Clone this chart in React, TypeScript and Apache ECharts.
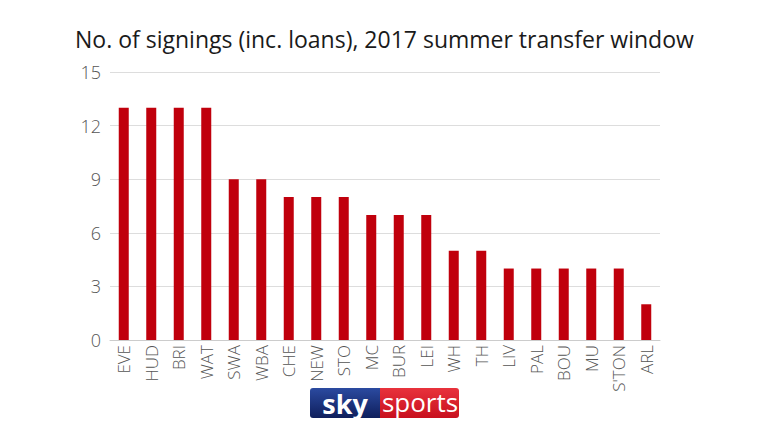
import React, { useEffect, useRef } from "react";
import * as echarts from "echarts";

const categories = ["EVE","HUD","BRI","WAT","SWA","WBA","CHE","NEW","STO","MC","BUR","LEI","WH","TH","LIV","PAL","BOU","MU","S'TON","ARL"];
const signings = [13,13,13,13,9,9,8,8,8,7,7,7,5,5,4,4,4,4,4,2];
const titleText = "No. of signings (inc. loans), 2017 summer transfer window";

export default function App() {
  const ref = useRef<HTMLDivElement>(null);
  useEffect(() => {
    const chart = echarts.init(ref.current!, null, { renderer: "svg" });
    chart.setOption({
      animation: false,
      backgroundColor: "#ffffff",
      title: {
        text: titleText,
        left: 70,
        top: 22,
        textStyle: { fontFamily: "Open Sans", fontSize: 23, fontWeight: "normal", color: "#1a1a1a" },
      },
      grid: { left: 110, right: 108, top: 72, bottom: 92, containLabel: false },
      xAxis: {
        type: "category",
        data: categories,
        axisTick: { show: false },
        axisLine: { lineStyle: { color: "#cccccc", width: 1 } },
        axisLabel: { rotate: 90, color: "#555555", fontFamily: "Open Sans", fontWeight: 300, fontSize: 17, margin: 5, interval: 0 },
      },
      yAxis: {
        type: "value",
        min: 0,
        max: 15,
        interval: 3,
        axisLine: { show: false },
        axisTick: { show: false },
        splitLine: { lineStyle: { color: "#dddddd", width: 1 } },
        axisLabel: { color: "#555555", fontFamily: "Open Sans", fontWeight: 300, fontSize: 18, margin: 9 },
      },
      series: [
        {
          type: "bar",
          data: signings,
          barWidth: 10,
          itemStyle: { color: "#c0000c" },
        },
      ],
      graphic: [
        {
          type: "group",
          left: 310,
          top: 388,
          children: [
            {
              type: "rect",
              shape: { x: 0, y: 0, width: 70, height: 30, r: [3, 0, 0, 3] },
              style: {
                fill: new echarts.graphic.LinearGradient(0, 0, 0, 1, [
                  { offset: 0, color: "#2b4aa0" },
                  { offset: 1, color: "#0f1f5c" },
                ]),
              },
            },
            {
              type: "rect",
              shape: { x: 70, y: 0, width: 79, height: 30, r: [0, 3, 3, 0] },
              style: {
                fill: new echarts.graphic.LinearGradient(0, 0, 0, 1, [
                  { offset: 0, color: "#e8323c" },
                  { offset: 1, color: "#c8101e" },
                ]),
              },
            },
            {
              type: "text",
              x: 35,
              y: 15,
              style: { text: "sky", fill: "#ffffff", fontFamily: "Open Sans", fontWeight: "bold", fontSize: 27, align: "center", verticalAlign: "middle" },
            },
            {
              type: "text",
              x: 110,
              y: 14,
              style: { text: "sports", fill: "#ffffff", fontFamily: "Open Sans", fontSize: 26, align: "center", verticalAlign: "middle" },
            },
          ],
        },
      ],
    });
    return () => chart.dispose();
  }, []);
  return <div ref={ref} style={{ width: 768, height: 432, position: "absolute", left: 0, top: 0 }} />;
}
